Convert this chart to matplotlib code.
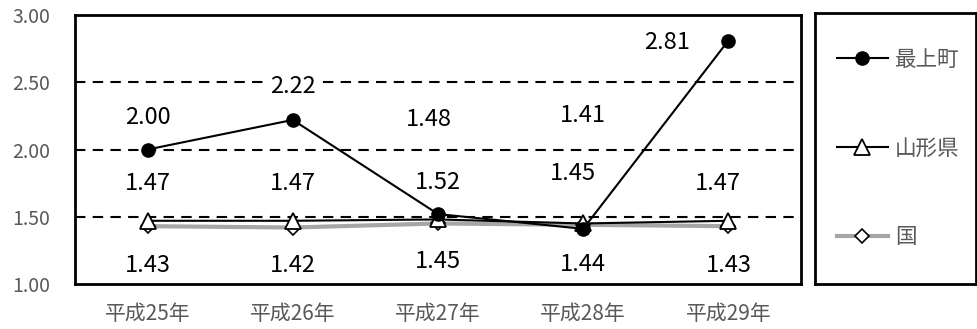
import matplotlib
matplotlib.use("Agg")
import matplotlib.pyplot as plt

plt.rcParams['font.family'] = ['Noto Sans CJK JP', 'DejaVu Sans']

years = ["平成25年", "平成26年", "平成27年", "平成28年", "平成29年"]
mogami = [2.00, 2.22, 1.52, 1.41, 2.81]
yamagata = [1.47, 1.47, 1.48, 1.45, 1.47]
kuni = [1.43, 1.42, 1.45, 1.44, 1.43]
series_names = ["最上町", "山形県", "国"]
yticks = [1.00, 1.50, 2.00, 2.50, 3.00]

# label offsets (pixels) -- labels were hand-placed in the original
mogami_off = [(0, 32), (0, 33), (0, 32), (0, 113), (-61, -2)]
yamagata_off = [(0, 37), (0, 37), (-9, 100), (-10, 50), (-11, 37)]
kuni_off = [(0, -39), (0, -38), (0, -38), (0, -40), (0, -39)]

GRAY_TXT = "#595959"

fig = plt.figure(figsize=(9.77, 3.29), dpi=100)
ax = fig.add_axes([75 / 977, 1 - 284 / 329, (801 - 75) / 977, (284 - 15) / 329])

x = list(range(len(years)))
for yv in [1.5, 2.0, 2.5]:
    ax.axhline(yv, color="black", lw=1.5, ls=(0, (5, 3.5)), zorder=1)

l3, = ax.plot(x, kuni, color="#a6a6a6", lw=3, marker="D", ms=7,
              mfc="white", mec="black", mew=1.2, zorder=3)
l2, = ax.plot(x, yamagata, color="black", lw=1.5, marker="^", ms=11,
              mfc="white", mec="black", mew=1.3, zorder=4)
l1, = ax.plot(x, mogami, color="black", lw=1.5, marker="o", ms=9.5,
              mfc="black", mec="black", zorder=5)

for vals, offs in [(mogami, mogami_off), (yamagata, yamagata_off), (kuni, kuni_off)]:
    for i, (v, (dx, dy)) in enumerate(zip(vals, offs)):
        ax.annotate(f"{v:.2f}", (i, v), xytext=(dx * 0.72, dy * 0.72),
                    textcoords="offset points", ha="center", va="center",
                    fontsize=17, color="black", zorder=6,
                    bbox=dict(boxstyle="square,pad=0.1", fc="white", ec="none"))

ax.set_xlim(-0.5, 4.5)
ax.set_ylim(1.0, 3.0)
ax.set_yticks(yticks)
ax.set_yticklabels([f"{t:.2f}" for t in yticks])
ax.set_xticks(x)
ax.set_xticklabels(years)
ax.tick_params(axis="both", length=0, colors=GRAY_TXT)
ax.tick_params(axis="x", pad=14, labelsize=15)
ax.tick_params(axis="y", pad=18, labelsize=14)
for s in ax.spines.values():
    s.set_linewidth(2)
    s.set_color("black")

# legend box
lax = fig.add_axes([815 / 977, 1 - 284 / 329, (976 - 815) / 977, (284 - 13) / 329])
lax.set_xticks([])
lax.set_yticks([])
for s in lax.spines.values():
    s.set_linewidth(2)
    s.set_color("black")
leg = lax.legend([l1, l2, l3], series_names, loc="center left", frameon=False,
                 fontsize=15.5, labelspacing=3.1, handlelength=2.4,
                 handletextpad=0.3, borderaxespad=0.6)
for t in leg.get_texts():
    t.set_color(GRAY_TXT)

fig.savefig("out.png", dpi=100)
